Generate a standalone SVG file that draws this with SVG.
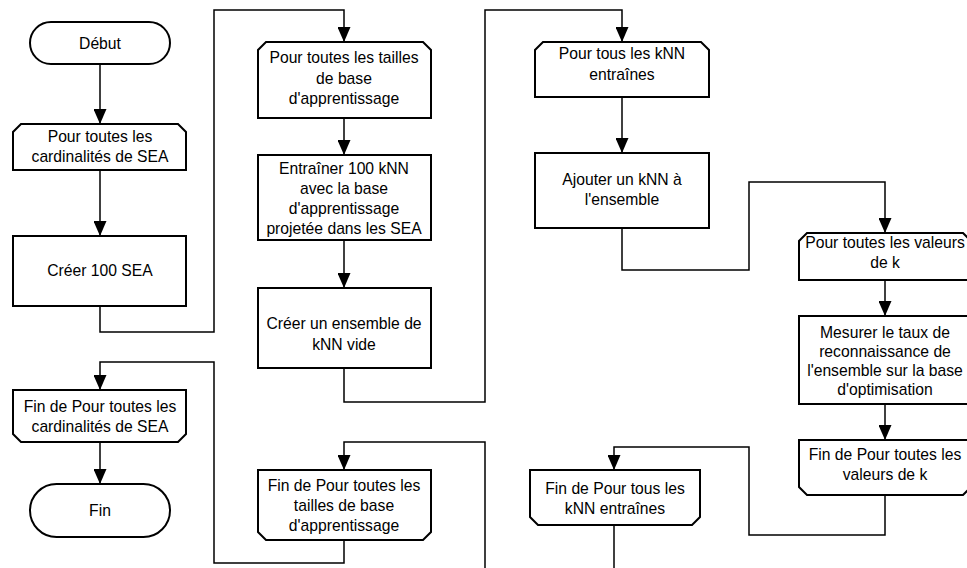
<svg xmlns="http://www.w3.org/2000/svg" width="967" height="568" viewBox="0 0 967 568">
  <style>
    .box { fill: #fff; stroke: #000; stroke-width: 2; }
    .wire { fill: none; stroke: #000; stroke-width: 1.5; }
    text { font-family: "Liberation Sans", Arial, sans-serif; font-size: 15.7px; fill: #000; text-anchor: middle; }
  </style>
  <defs>
    <marker id="tip" viewBox="0 0 15 13" refX="15" refY="6.5" markerWidth="15" markerHeight="13" markerUnits="userSpaceOnUse" orient="auto">
      <path d="M0,0 L15,6.5 L0,13 Z" fill="#000"/>
    </marker>
  </defs>
  <rect width="967" height="568" fill="#fff"/>

  <!-- connectors -->
  <g id="connectors" class="wire">
    <path d="M100,64 V124" marker-end="url(#tip)"/>
    <path d="M100,170 V236" marker-end="url(#tip)"/>
    <path d="M100,306 V332 H214 V10 H344 V42" marker-end="url(#tip)"/>
    <path d="M344,118 V155" marker-end="url(#tip)"/>
    <path d="M344,240 V288" marker-end="url(#tip)"/>
    <path d="M344,368 V402 H485 V10 H622 V42" marker-end="url(#tip)"/>
    <path d="M622,97 V153" marker-end="url(#tip)"/>
    <path d="M622,228 V270 H749 V182 H885 V233" marker-end="url(#tip)"/>
    <path d="M885,280 V316" marker-end="url(#tip)"/>
    <path d="M885,404 V440" marker-end="url(#tip)"/>
    <path d="M885,495 V535 H749 V447 H614 V470" marker-end="url(#tip)"/>
    <path d="M614,525 V568"/>
    <path d="M485,568 V442 H344 V470" marker-end="url(#tip)"/>
    <path d="M344,540 V563 H214 V362 H100 V390" marker-end="url(#tip)"/>
    <path d="M100,442 V484" marker-end="url(#tip)"/>
  </g>

  <!-- column 1 -->
  <g id="debut">
    <rect class="box" x="30" y="22" width="140" height="42" rx="21"/>
    <text x="100" y="49">Début</text>
  </g>
  <g id="boucle-cardinalites">
    <path class="box" d="M21,124 H178 L186,132 V170 H13 V132 Z"/>
    <text x="100" y="142">Pour toutes les</text>
    <text x="100" y="162">cardinalités de SEA</text>
  </g>
  <g id="creer-sea">
    <rect class="box" x="13" y="236" width="173" height="70"/>
    <text x="100" y="276">Créer 100 SEA</text>
  </g>
  <g id="fin-boucle-cardinalites">
    <path class="box" d="M13,390 H186 V434 L178,442 H21 L13,434 Z"/>
    <text x="100" y="412">Fin de Pour toutes les</text>
    <text x="100" y="432">cardinalités de SEA</text>
  </g>
  <g id="fin">
    <rect class="box" x="30" y="484" width="140" height="53" rx="26.5"/>
    <text x="100" y="516">Fin</text>
  </g>

  <!-- column 2 -->
  <g id="boucle-tailles">
    <path class="box" d="M266,42 H423 L431,50 V118 H258 V50 Z"/>
    <text x="344" y="63">Pour toutes les tailles</text>
    <text x="344" y="84">de base</text>
    <text x="344" y="104">d'apprentissage</text>
  </g>
  <g id="entrainer-knn">
    <rect class="box" x="258" y="155" width="173" height="85"/>
    <text x="344" y="174">Entraîner 100 kNN</text>
    <text x="344" y="194">avec la base</text>
    <text x="344" y="214">d'apprentissage</text>
    <text x="344" y="234">projetée dans les SEA</text>
  </g>
  <g id="creer-ensemble">
    <rect class="box" x="258" y="288" width="173" height="80"/>
    <text x="344" y="329">Créer un ensemble de</text>
    <text x="344" y="350">kNN vide</text>
  </g>
  <g id="fin-boucle-tailles">
    <path class="box" d="M258,470 H431 V532 L423,540 H266 L258,532 Z"/>
    <text x="344" y="491">Fin de Pour toutes les</text>
    <text x="344" y="511">tailles de base</text>
    <text x="344" y="531">d'apprentissage</text>
  </g>

  <!-- column 3 -->
  <g id="boucle-knn">
    <path class="box" d="M543,42 H701 L709,50 V97 H535 V50 Z"/>
    <text x="622" y="59">Pour tous les kNN</text>
    <text x="622" y="80">entraînes</text>
  </g>
  <g id="ajouter-knn">
    <rect class="box" x="535" y="153" width="174" height="75"/>
    <text x="622" y="185">Ajouter un kNN à</text>
    <text x="622" y="205">l'ensemble</text>
  </g>
  <g id="fin-boucle-knn">
    <path class="box" d="M530,470 H700 V517 L692,525 H538 L530,517 Z"/>
    <text x="615" y="494">Fin de Pour tous les</text>
    <text x="615" y="514">kNN entraînes</text>
  </g>

  <!-- column 4 -->
  <g id="boucle-k">
    <path class="box" d="M807,233 H963 L971,241 V280 H799 V241 Z"/>
    <text x="885" y="248">Pour toutes les valeurs</text>
    <text x="885" y="268">de k</text>
  </g>
  <g id="mesurer-taux">
    <rect class="box" x="799" y="316" width="172" height="88"/>
    <text x="885" y="338">Mesurer le taux de</text>
    <text x="885" y="357">reconnaissance de</text>
    <text x="885" y="376">l'ensemble sur la base</text>
    <text x="885" y="395">d'optimisation</text>
  </g>
  <g id="fin-boucle-k">
    <path class="box" d="M799,440 H971 V487 L963,495 H807 L799,487 Z"/>
    <text x="885" y="460">Fin de Pour toutes les</text>
    <text x="885" y="480">valeurs de k</text>
  </g>
</svg>
